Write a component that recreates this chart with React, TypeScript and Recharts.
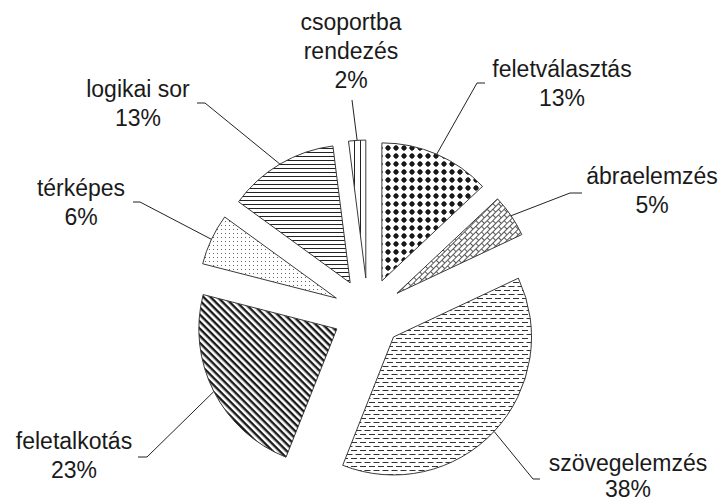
import React from "react";
import { PieChart, Pie, Cell } from "recharts";

const names = [
  "feletválasztás",
  "ábraelemzés",
  "szövegelemzés",
  "feletalkotás",
  "térképes",
  "logikai sor",
  "csoportba\nrendezés",
];
const values = [13, 5, 38, 23, 6, 13, 2];

const data = names.map((name, i) => ({ name, value: values[i] }));

// hand placed label boxes: text centre, first baseline, line gap, elbow of the leader line
const labelLayout = [
  { tx: 562, ty: 77, gap: 29, ex: 477, ey: 83, hx: 485 },
  { tx: 652, ty: 184, gap: 29, ex: 570, ey: 193, hx: 582 },
  { tx: 628, ty: 471, gap: 26, ex: 533, ey: 479, hx: 540 },
  { tx: 74, ty: 449, gap: 29, ex: 147, ey: 457, hx: 138 },
  { tx: 81, ty: 196, gap: 29, ex: 140, ey: 202, hx: 133 },
  { tx: 138, ty: 97, gap: 29, ex: 205, ey: 103, hx: 197 },
  { tx: 351, ty: 30, gap: 29, ex: 352, ey: 100, hx: 352 },
];

const W = 723;
const H = 503;
const CX = 368;
const CY = 313;
const R = 138;
const EXPLODE = 35;
const RADIAN = Math.PI / 180;
const FONT = "'Liberation Sans', Arial, sans-serif";

const total = values.reduce((a, b) => a + b, 0);
let acc = 0;
const mids = values.map((v) => {
  const m = ((acc + v / 2) / total) * 360;
  acc += v;
  return m;
});

function makeLabel(i: number) {
  return (props: any) => {
    if (props.index !== i) return null;
    const { cx, cy, midAngle, outerRadius, percent } = props;
    const a = -midAngle * RADIAN;
    const ax = cx + outerRadius * Math.cos(a);
    const ay = cy + outerRadius * Math.sin(a);
    const L = labelLayout[i];
    const lines = [...names[i].split("\n"), `${Math.round(percent * 100)}%`];
    return (
      <g>
        <polyline
          points={`${ax},${ay} ${L.ex},${L.ey} ${L.hx},${L.ey}`}
          fill="none"
          stroke="#222"
          strokeWidth={1}
        />
        <text
          x={L.tx}
          y={L.ty}
          textAnchor="middle"
          fontFamily={FONT}
          fontSize={23}
          fill="#1a1a1a"
        >
          {lines.map((t, k) => (
            <tspan key={k} x={L.tx} dy={k === 0 ? 0 : L.gap}>
              {t}
            </tspan>
          ))}
        </text>
      </g>
    );
  };
}

export default function App() {
  return (
    <div style={{ position: "absolute", left: 0, top: 0, background: "#fff" }}>
      <PieChart width={W} height={H} margin={{ top: 0, right: 0, bottom: 0, left: 0 }}>
        <defs>
          <pattern id="pat0" width="8" height="8" patternUnits="userSpaceOnUse">
            <rect width="8" height="8" fill="#fff" />
            <polygon points="4,1 7,4 4,7 1,4" fill="#1a1a1a" />
            <circle cx="4" cy="4" r="2.4" fill="#1a1a1a" />
          </pattern>
          <pattern
            id="pat1"
            width="8"
            height="8"
            patternUnits="userSpaceOnUse"
            patternTransform="rotate(-45)"
          >
            <rect width="8" height="8" fill="#fff" />
            <path d="M0 0.5H8 M0 4.5H8 M0.5 0.5V4.5 M4.5 4.5V8.5" stroke="#555" strokeWidth="1" fill="none" />
          </pattern>
          <pattern id="pat2" width="9" height="8" patternUnits="userSpaceOnUse">
            <rect width="9" height="8" fill="#fff" />
            <path d="M0 2.5H6 M4.5 6.5H9 M0 6.5H1.5" stroke="#333" strokeWidth="1" fill="none" />
          </pattern>
          <pattern
            id="pat3"
            width="5"
            height="5"
            patternUnits="userSpaceOnUse"
            patternTransform="rotate(45)"
          >
            <rect width="5" height="5" fill="#fff" />
            <rect y="0" width="5" height="2.4" fill="#1a1a1a" />
          </pattern>
          <pattern id="pat4" width="4" height="4" patternUnits="userSpaceOnUse">
            <rect width="4" height="4" fill="#fff" />
            <rect x="1" y="1" width="1" height="1" fill="#666" />
          </pattern>
          <pattern id="pat5" width="4" height="4" patternUnits="userSpaceOnUse">
            <rect width="4" height="4" fill="#fff" />
            <path d="M0 0.5H4" stroke="#222" strokeWidth="1" />
          </pattern>
          <pattern id="pat6" width="6" height="6" patternUnits="userSpaceOnUse">
            <rect width="6" height="6" fill="#fff" />
            <path d="M0.5 0V6" stroke="#222" strokeWidth="1" />
          </pattern>
        </defs>
        {data.map((_, i) => (
          <Pie
            key={i}
            data={data}
            dataKey="value"
            nameKey="name"
            cx={CX + EXPLODE * Math.sin(mids[i] * RADIAN)}
            cy={CY - EXPLODE * Math.cos(mids[i] * RADIAN)}
            innerRadius={0}
            outerRadius={R}
            startAngle={90}
            endAngle={-270}
            paddingAngle={0}
            isAnimationActive={false}
            label={makeLabel(i)}
            labelLine={false}
          >
            {data.map((__, j) => (
              <Cell
                key={j}
                fill={j === i ? `url(#pat${i})` : "none"}
                stroke={j === i ? "#3a3a3a" : "none"}
                strokeWidth={1}
              />
            ))}
          </Pie>
        ))}
      </PieChart>
    </div>
  );
}
